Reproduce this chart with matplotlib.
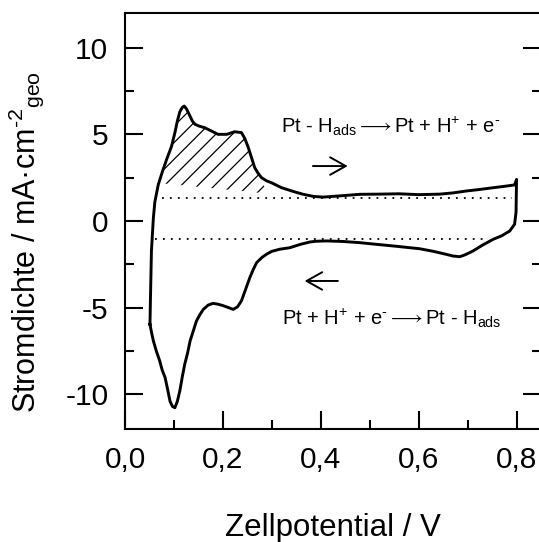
import numpy as np
import matplotlib
matplotlib.use("Agg")
import matplotlib.pyplot as plt
from matplotlib.ticker import FixedLocator

plt.rcParams['font.family'] = ['Liberation Sans', 'DejaVu Sans']
plt.rcParams['mathtext.fontset'] = 'custom'
plt.rcParams['mathtext.rm'] = 'Liberation Sans'
plt.rcParams['mathtext.it'] = 'Liberation Sans'
plt.rcParams['hatch.linewidth'] = 0.9

# anodischer Durchlauf (0,05 V -> 0,8 V)
v_anod = [0.051, 0.052, 0.054, 0.058, 0.061, 0.068, 0.077, 0.082, 0.085, 0.095,
          0.102, 0.107, 0.112, 0.117, 0.121, 0.126, 0.132, 0.138, 0.143, 0.152,
          0.163, 0.176, 0.19, 0.208, 0.224, 0.238, 0.245, 0.252, 0.258, 0.265,
          0.272, 0.279, 0.289, 0.299, 0.32, 0.342, 0.364, 0.385, 0.405, 0.44,
          0.48, 0.52, 0.56, 0.60, 0.643, 0.67, 0.697, 0.725, 0.752, 0.775,
          0.796, 0.800]
i_anod = [-5.96, -4.5, -1.73, 0.19, 1.1, 2.1, 2.9, 3.3, 3.55, 4.3,
          5.1, 5.77, 6.3, 6.55, 6.63, 6.45, 6.1, 5.75, 5.58, 5.47,
          5.38, 5.2, 5.0, 5.0, 5.15, 5.1, 4.75, 4.23, 3.7, 3.08,
          2.75, 2.5, 2.32, 2.21, 1.92, 1.72, 1.54, 1.42, 1.38, 1.45,
          1.54, 1.55, 1.57, 1.52, 1.55, 1.62, 1.73, 1.82, 1.92, 2.0,
          2.08, 2.4]

# kathodischer Durchlauf (0,8 V -> 0,05 V)
v_kath = [0.800, 0.799, 0.796, 0.786, 0.770, 0.752, 0.730, 0.711, 0.695, 0.684,
          0.670, 0.656, 0.630, 0.602, 0.575, 0.548, 0.515, 0.48, 0.445, 0.412,
          0.39, 0.378, 0.358, 0.337, 0.316, 0.300, 0.289, 0.280, 0.269, 0.262,
          0.255, 0.247, 0.238, 0.230, 0.221, 0.210, 0.200, 0.190, 0.180, 0.170,
          0.160, 0.153, 0.146, 0.140, 0.133, 0.128, 0.122, 0.117, 0.112, 0.107,
          0.102, 0.097, 0.092, 0.087, 0.082, 0.076, 0.071, 0.064, 0.058, 0.054,
          0.051]
i_kath = [2.4, 0.5, -0.19, -0.58, -0.85, -1.06, -1.4, -1.73, -1.95, -2.06,
          -2.02, -1.92, -1.75, -1.6, -1.52, -1.44, -1.35, -1.25, -1.18, -1.15,
          -1.17, -1.21, -1.35, -1.54, -1.63, -1.75, -1.92, -2.1, -2.4, -2.8,
          -3.27, -3.9, -4.6, -4.95, -5.1, -4.98, -4.88, -4.8, -4.75, -4.85,
          -5.1, -5.4, -5.77, -6.3, -6.92, -7.6, -8.27, -9.0, -9.8, -10.4,
          -10.77, -10.7, -10.4, -9.7, -9.04, -8.6, -8.08, -7.5, -6.92, -6.4,
          -5.96]

# Doppelschichtgrundlinien (gepunktet)
base_up_v = [0.075, 0.79]
base_up_i = [1.31, 1.31]
base_down_v = [0.061, 0.74]
base_down_i = [-1.02, -1.02]

# schraffierte H-Desorptionsfläche
hatch_v = [0.066, 0.285]
hatch_base = [2.2, 1.6]

x_ticks = [0.0, 0.2, 0.4, 0.6, 0.8]
x_labels = ['0,0', '0,2', '0,4', '0,6', '0,8']
y_ticks = [-10, -5, 0, 5, 10]
y_labels = ['-10', '-5', '0', '5', '10']

fig = plt.figure(figsize=(5.39, 5.42), dpi=100)
ax = fig.add_axes([125 / 539, 113 / 542, 416 / 539, 416 / 542])

v_all = np.array(v_anod + v_kath)
i_all = np.array(i_anod + i_kath)
ax.plot(v_all, i_all, color='black', lw=2.1, solid_joinstyle='round')

ax.plot(base_up_v, base_up_i, color='black', lw=1.3, ls=(0, (1, 3.4)))
ax.plot(base_down_v, base_down_i, color='black', lw=1.3, ls=(0, (1, 3.4)))

va = np.array(v_anod)
ia = np.array(i_anod)
mask = (va >= hatch_v[0]) & (va <= hatch_v[1])
lower = np.interp(va, hatch_v, hatch_base)
ax.fill_between(va, lower, ia, where=mask & (ia > lower), facecolor='none',
                edgecolor='black', hatch='//', lw=0, interpolate=True)

ax.text(0.543, 5.45, r'Pt - H$_{\mathrm{ads}}\longrightarrow$Pt + H$^{+}$ + e$^{\text{-}}$',
        fontsize=14.5, ha='center', va='center')
ax.text(0.545, -5.6, r'Pt + H$^{+}$ + e$^{\text{-}}\longrightarrow$Pt - H$_{\mathrm{ads}}$',
        fontsize=14.5, ha='center', va='center')
arrow = dict(arrowstyle='->,head_length=0.8,head_width=0.45', lw=1.4,
             color='black', mutation_scale=14, shrinkA=0, shrinkB=0)
ax.annotate('', xy=(0.455, 3.17), xytext=(0.384, 3.17), arrowprops=arrow)
ax.annotate('', xy=(0.367, -3.46), xytext=(0.435, -3.46), arrowprops=arrow)

ax.set_xlim(0, 0.85)
ax.set_ylim(-12, 12)
ax.set_xticks(x_ticks)
ax.set_xticklabels(x_labels)
ax.set_yticks(y_ticks)
ax.set_yticklabels(y_labels)
ax.xaxis.set_minor_locator(FixedLocator([0.1, 0.3, 0.5, 0.7]))
ax.yaxis.set_minor_locator(FixedLocator([-7.5, -2.5, 2.5, 7.5]))
ax.tick_params(which='both', direction='in', width=1.5, labelsize=21.5,
               top=False, right=True)
ax.tick_params(which='major', length=13, pad=12)
ax.tick_params(which='minor', length=6.5)
for s in ax.spines.values():
    s.set_linewidth(1.5)

ax.set_xlabel('Zellpotential / V', fontsize=22.5, labelpad=28)
ax.set_ylabel(r'Stromdichte / mA·cm$^{\text{-2}}$$_{\mathrm{geo}}$', fontsize=22)
ax.yaxis.set_label_coords(-0.19, 0.45)

fig.savefig('out.png', dpi=100)
